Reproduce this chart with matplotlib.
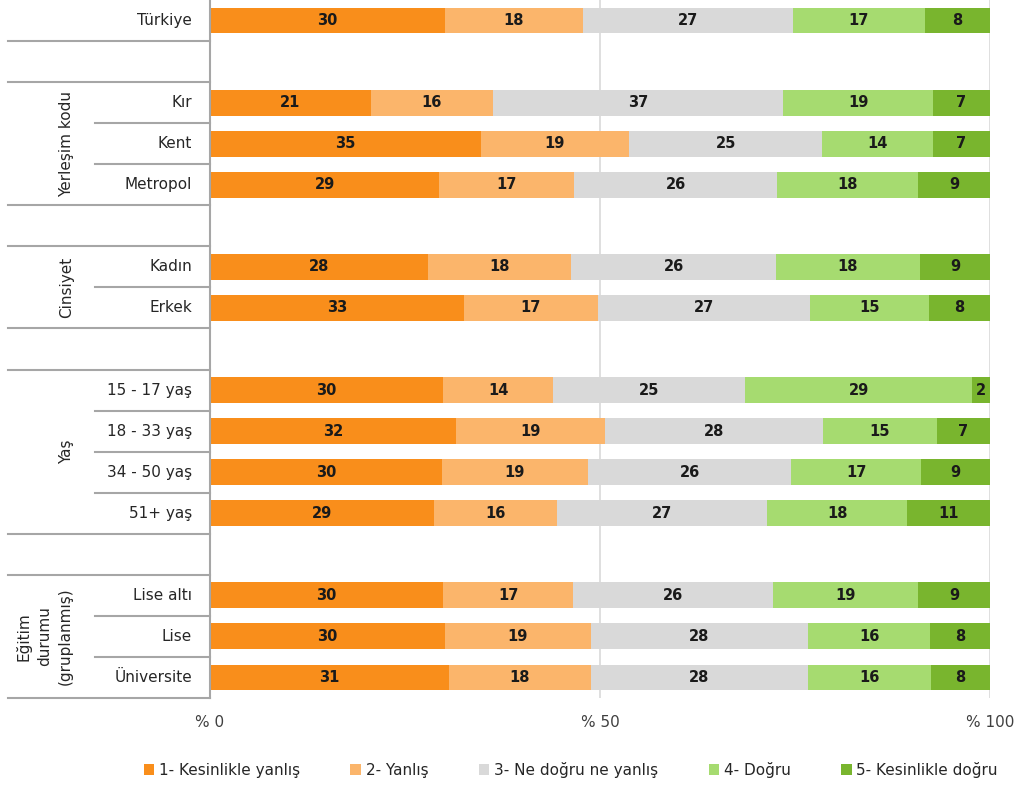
import matplotlib.pyplot as plt
import numpy as np

# ---- data (percent shares) ----
rows = ["Türkiye", "", "Kır", "Kent", "Metropol", "", "Kadın", "Erkek", "",
        "15 - 17 yaş", "18 - 33 yaş", "34 - 50 yaş", "51+ yaş", "",
        "Lise altı", "Lise", "Üniversite"]

kesin_yanlis = [30.1, 0, 20.6, 34.7, 29.4, 0, 27.9, 32.6, 0, 29.9, 31.6, 29.7, 28.7, 0, 29.9, 30.1, 30.6]
yanlis = [17.7, 0, 15.7, 19.0, 17.3, 0, 18.4, 17.1, 0, 14.1, 19.0, 18.8, 15.8, 0, 16.7, 18.7, 18.2]
ne_ne = [26.9, 0, 37.2, 24.8, 26.0, 0, 26.3, 27.2, 0, 24.6, 28.0, 26.0, 26.9, 0, 25.6, 27.9, 27.9]
dogru = [17.0, 0, 19.2, 14.2, 18.1, 0, 18.4, 15.3, 0, 29.1, 14.6, 16.7, 18.0, 0, 18.6, 15.6, 15.7]
kesin_dogru = [8.3, 0, 7.3, 7.3, 9.2, 0, 9.0, 7.8, 0, 2.3, 6.8, 8.8, 10.6, 0, 9.2, 7.7, 7.6]

series_names = ["1- Kesinlikle yanlış", "2- Yanlış", "3- Ne doğru ne yanlış",
                "4- Doğru", "5- Kesinlikle doğru"]
colors = ["#F98E1B", "#FBB56B", "#D9D9D9", "#A6DB70", "#79B52E"]

# groups: (label, first row, last row)
groups = [("Yerleşim kodu", 2, 4), ("Cinsiyet", 6, 7), ("Yaş", 9, 12),
          ("Eğitim\ndurumu\n(gruplanmış)", 14, 16)]

xticks = [0, 50, 100]
xticklabels = ["% 0", "% 50", "% 100"]

# ---- figure ----
fig = plt.figure(figsize=(10.21, 7.87), dpi=100)
ax = fig.add_axes([210 / 1021, 1 - 698 / 787, 780 / 1021, 698 / 787])

series = [kesin_yanlis, yanlis, ne_ne, dogru, kesin_dogru]
y = np.arange(len(rows))
left = np.zeros(len(rows))
for vals, col, name in zip(series, colors, series_names):
    vals = np.array(vals)
    ax.barh(y, vals, left=left, height=0.63, color=col, label=name, zorder=2)
    for yi, (l, v) in enumerate(zip(left, vals)):
        if v > 0:
            ax.text(l + v / 2, yi, f"{v:.0f}", ha="center", va="center",
                    fontsize=10.5, fontweight="bold", color="#1a1a1a", zorder=3)
    left += vals

ax.set_xlim(0, 100)
ax.set_ylim(len(rows) - 0.5, -0.5)
ax.set_xticks(xticks)
ax.set_xticklabels(xticklabels, fontsize=11, color="#404040")
ax.tick_params(axis="x", length=0, pad=12)
ax.set_yticks([])
for s in ["top", "right", "bottom"]:
    ax.spines[s].set_visible(False)
ax.spines["left"].set_color("#A6A6A6")
ax.spines["left"].set_linewidth(1.5)
for gx in [50, 100]:
    ax.axvline(gx, color="#D9D9D9", lw=1.2, zorder=1)

# ---- left side labels and separators ----
tr = ax.get_yaxis_transform()
x_full = (8 - 210) / 780
x_inner = (95 - 210) / 780
for yi, name in enumerate(rows):
    if name:
        ax.text((192 - 210) / 780, yi, name, transform=tr, ha="right", va="center",
                fontsize=11, color="#262626")

full_lines = [0.5, 1.5, 4.5, 5.5, 7.5, 8.5, 12.5, 13.5, 16.5]
inner_lines = [2.5, 3.5, 6.5, 9.5, 10.5, 11.5, 14.5, 15.5]
for b in full_lines:
    ax.plot([x_full, 0], [b, b], transform=tr, color="#A6A6A6", lw=1.5, clip_on=False)
for b in inner_lines:
    ax.plot([x_inner, 0], [b, b], transform=tr, color="#A6A6A6", lw=1.5, clip_on=False)

for label, a, b in groups:
    xg = (67 - 210) / 780 if "\n" not in label else (44 - 210) / 780
    ax.text(xg, (a + b) / 2, label, transform=tr, rotation=90, ha="center",
            va="center", fontsize=11, color="#262626", linespacing=1.45)

fig.legend(loc="center", bbox_to_anchor=(0.559, 1 - 770 / 787), ncol=5, frameon=False,
           fontsize=11, handlelength=0.7, handleheight=0.7, handletextpad=0.3,
           columnspacing=3.3, labelcolor="#262626")

fig.savefig("out.png", dpi=100)
